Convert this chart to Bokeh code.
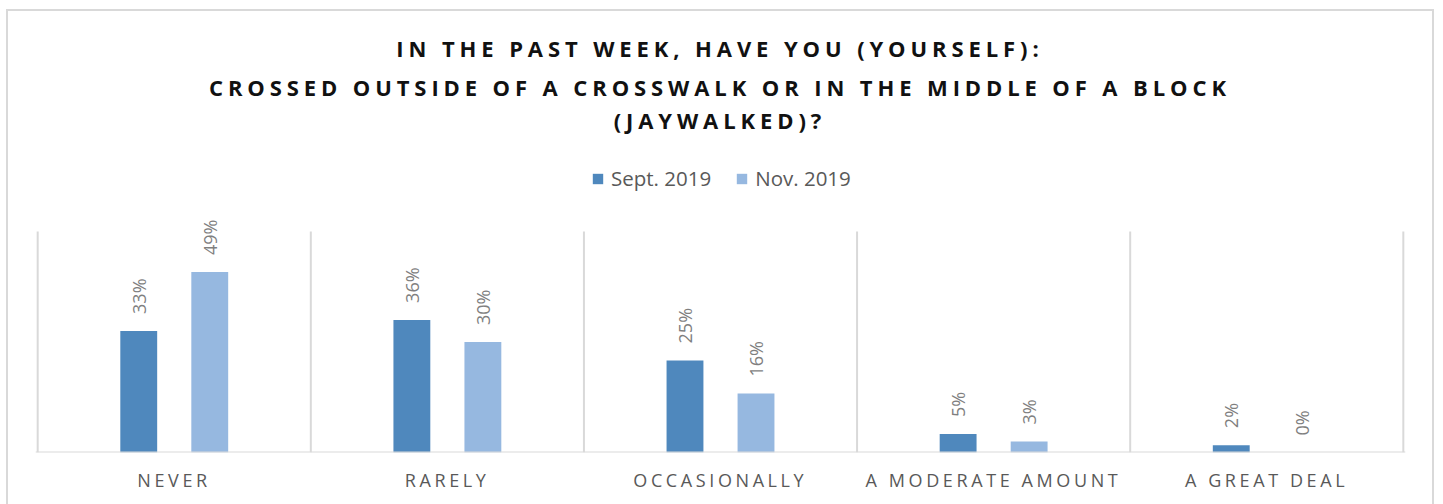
import math
from bokeh.plotting import figure
from bokeh.models import (ColumnDataSource, FactorRange, Range1d, Span,
                          Label, LabelSet, Legend, LegendItem)
from bokeh.transform import dodge
from bokeh.layouts import column
from bokeh.embed import file_html
from bokeh.resources import INLINE
from bokeh.core.properties import value

# ---------------- data ----------------
categories = ["NEVER", "RARELY", "OCCASIONALLY", "A MODERATE AMOUNT", "A GREAT DEAL"]
series_names = ["Sept. 2019", "Nov. 2019"]
sept_2019 = [33, 36, 25, 5, 2]
nov_2019 = [49, 30, 16, 3, 0]
title_lines = [
    "IN THE PAST WEEK, HAVE YOU (YOURSELF):",
    "CROSSED OUTSIDE OF A CROSSWALK OR IN THE MIDDLE OF A BLOCK",
    "(JAYWALKED)?",
]
Y_TOP = 60  # top of the value axis (percent)

# ---------------- styling / geometry ----------------
FONT = "Open Sans"
TITLE_SP = 4.9
AXIS_SP = 3.6
BORDER = "2px solid #d9d9d9"
C_SEPT = "#4f88bd"
C_NOV = "#96b8e0"
GRID_C = "#d9d9d9"
W = 1428
MB_L, MB_R = 27, 31
TF_H, MF_H, AF_H = 135, 312, 48
MF_MB_BOTTOM = 4
PLOT_PX = 221  # pixel height of the 0..Y_TOP plot area
OFFSET = 0.13
BAR_W = 0.135

common = dict(output_backend="svg", toolbar_location=None, outline_line_color=None,
              border_fill_color=None, background_fill_color=None,
              min_border_left=MB_L, min_border_right=MB_R)

# ---------------- title figure ----------------
tf = figure(width=W, height=TF_H, x_range=Range1d(0, 1), y_range=Range1d(0, 1),
            x_axis_location=None, y_axis_location=None, min_border_top=0, min_border_bottom=0,
            styles={"letter-spacing": f"{TITLE_SP}px", "border-top": BORDER,
                    "border-left": BORDER, "border-right": BORDER}, **common)
tf.grid.visible = False
baselines = [98.5, 60, 27]
for line, yb in zip(title_lines, baselines):
    tf.add_layout(Label(x=682, y=yb, x_units="screen", y_units="screen", text=line,
                        text_align="center", text_baseline="alphabetic",
                        x_offset=-(len(line) - 1) * TITLE_SP / 2,
                        text_font=FONT, text_font_style="bold", text_font_size="22px",
                        text_color="#111111"))

# ---------------- main figure ----------------
src = ColumnDataSource(dict(
    cat=categories, sept=sept_2019, nov=nov_2019,
    sept_lbl=[f"{v}%" for v in sept_2019], nov_lbl=[f"{v}%" for v in nov_2019]))
edges = ColumnDataSource(dict(edge=list(range(len(categories) + 1))))

frame_px = MF_H - MF_MB_BOTTOM
x_range = FactorRange(factors=categories, range_padding=0.008, range_padding_units="absolute")
mf = figure(width=W, height=MF_H, x_range=x_range,
            y_range=Range1d(0, Y_TOP * frame_px / PLOT_PX),
            min_border_top=0, min_border_bottom=MF_MB_BOTTOM,
            styles={"border-left": BORDER, "border-right": BORDER}, **common)
mf.xaxis.visible = False
mf.yaxis.visible = False
mf.grid.visible = False

# category separators (vertical gridlines between categories)
mf.segment(x0="edge", y0=0, x1="edge", y1=Y_TOP, source=edges,
           line_color=GRID_C, line_width=2)

r1 = mf.vbar(x=dodge("cat", -OFFSET, range=mf.x_range), top="sept", width=BAR_W, source=src,
             fill_color=C_SEPT, line_color=None)
r2 = mf.vbar(x=dodge("cat", OFFSET, range=mf.x_range), top="nov", width=BAR_W, source=src,
             fill_color=C_NOV, line_color=None)

mf.add_layout(Span(location=0, dimension="width", line_color=GRID_C, line_width=2))

for col, lbl, off in (("sept", "sept_lbl", -OFFSET), ("nov", "nov_lbl", OFFSET)):
    mf.add_layout(LabelSet(x=dodge("cat", off, range=mf.x_range), y=col, text=lbl, source=src,
                           angle=math.pi / 2, text_align="left", text_baseline="middle",
                           y_offset=17, text_font=value(FONT), text_font_size="18px",
                           text_color="#7f7f7f"))

legend = Legend(items=[LegendItem(label=series_names[0], renderers=[r1]),
                       LegendItem(label=series_names[1], renderers=[r2])],
                orientation="horizontal", location=(556, 260),
                label_text_font=FONT, label_text_font_size="20.5px", label_text_color="#595959",
                glyph_width=13, glyph_height=13, label_height=13, label_standoff=7,
                spacing=24, padding=0, margin=0, border_line_color=None,
                background_fill_alpha=0)
mf.add_layout(legend)

# ---------------- category label strip ----------------
asrc = ColumnDataSource(dict(cat=categories,
                             xoff=[-(len(c) - 1) * AXIS_SP / 2 - 2 for c in categories]))
af = figure(width=W, height=AF_H, x_range=mf.x_range, y_range=Range1d(-1, 1),
            x_axis_location=None, y_axis_location=None, min_border_top=0, min_border_bottom=2,
            styles={"letter-spacing": f"{AXIS_SP}px", "border-left": BORDER,
                    "border-right": BORDER}, **common)
af.grid.visible = False
af.text(x="cat", y=0, text="cat", source=asrc, x_offset="xoff", text_align="center",
        text_baseline="middle", text_font=value(FONT), text_font_size="18px",
        text_color="#595959")

layout = column(tf, mf, af, spacing=0, margin=(9, 0, 0, 6))
open("out.html", "w").write(file_html(layout, INLINE))
